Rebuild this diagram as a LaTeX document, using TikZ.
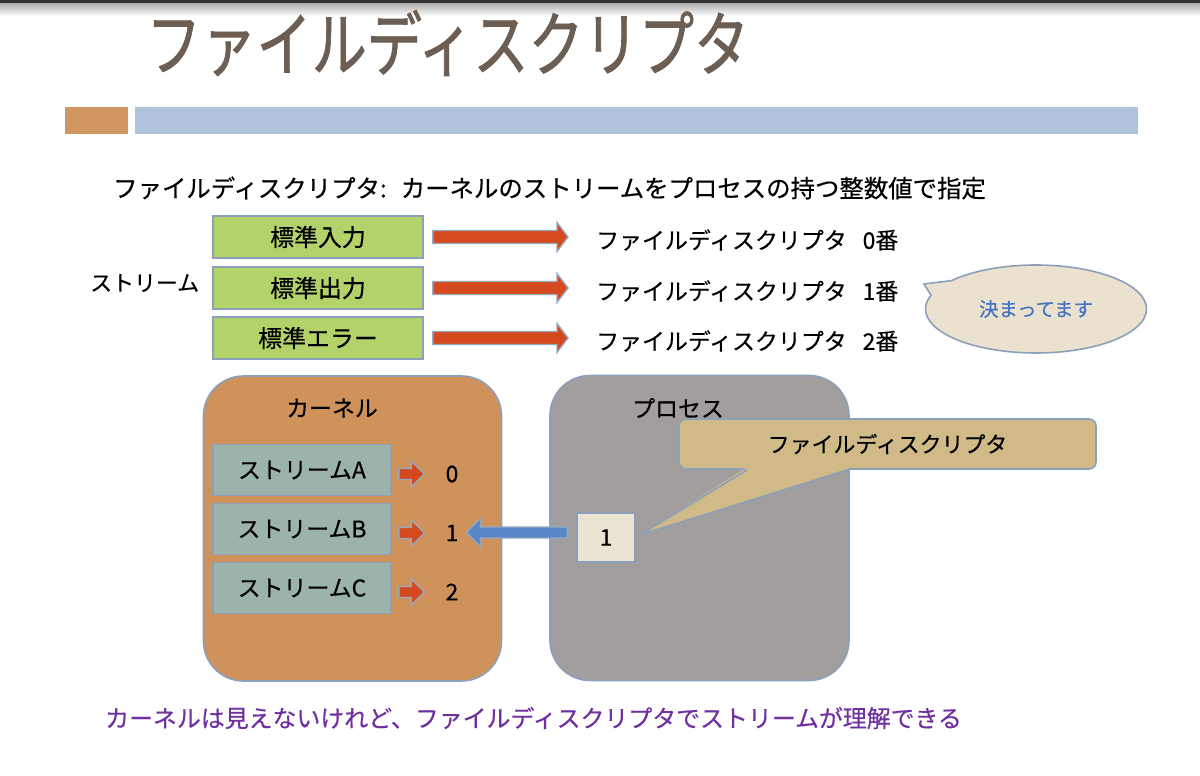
\documentclass[tikz,border=0pt]{standalone}
\usepackage{fontspec}
\setmainfont[FakeBold=0.4]{Noto Sans CJK JP}
\newfontfamily\titlefont[FakeBold=1.2]{Noto Sans CJK JP}
\usetikzlibrary{calc,positioning,shapes.callouts}

\definecolor{titlebrown}{RGB}{108,94,82}
\definecolor{squareorange}{RGB}{208,150,96}
\definecolor{barblue}{RGB}{176,195,220}
\definecolor{boxline}{RGB}{140,160,186}
\definecolor{stdgreen}{RGB}{180,210,106}
\definecolor{strmteal}{RGB}{155,179,170}
\definecolor{kernelorange}{RGB}{206,146,90}
\definecolor{procgray}{RGB}{163,158,158}
\definecolor{calloutan}{RGB}{207,186,136}
\definecolor{onebeige}{RGB}{235,228,210}
\definecolor{ellbeige}{RGB}{234,226,206}
\definecolor{textblue}{RGB}{68,114,196}
\definecolor{arrowred}{RGB}{212,74,30}
\definecolor{arrowblue}{RGB}{86,134,200}
\definecolor{arrowline}{RGB}{150,168,192}
\definecolor{notepurple}{RGB}{112,48,160}

\tikzset{
    every node/.style={inner sep=0pt, font=\fontsize{23}{27}\selectfont},
    stdbox/.style={draw=boxline, fill=stdgreen, line width=1.6bp,
        minimum width=210bp, minimum height=42bp, font=\fontsize{24}{28}\selectfont},
    strmbox/.style={draw=boxline, fill=strmteal, line width=1.6bp,
        minimum width=178bp, minimum height=51bp, font=\fontsize{23}{27}\selectfont},
    area/.style={draw=boxline, line width=1.6bp, rounded corners=40bp,
        minimum width=298bp, minimum height=305bp},
    redarrow/.style={fill=arrowred, draw=arrowline, line width=1.4bp},
    bluearrow/.style={fill=arrowblue, draw=arrowline, line width=1.4bp}
}

% block arrow: style, from, to, shaft half, head half, head length
\newcommand\blockarrow[6]{%
  \filldraw[#1] ($(#2)+(0,#4)$) -- ($(#3)!#6!(#2)+(0,#4)$)
    -- ($(#3)!#6!(#2)+(0,#5)$) -- (#3)
    -- ($(#3)!#6!(#2)+(0,-#5)$) -- ($(#3)!#6!(#2)+(0,-#4)$)
    -- ($(#2)+(0,-#4)$) -- cycle;%
}

\begin{document}
\begin{tikzpicture}[x=1bp, y=-1bp]
\useasboundingbox (0,0) rectangle (1200,776);
\fill[white] (0,0) rectangle (1200,776);

% top edge and header:
\fill[black!80] (0,0) rectangle (1200,4);
\shade[top color=black!30, bottom color=white] (0,4) rectangle (1200,16);
\node[anchor=west, text=titlebrown, font=\titlefont\fontsize{71}{75}\selectfont] (title) at (146,43)
  {\scalebox{0.78}[1]{ファイルディスクリプタ}};
\fill[squareorange] (65,107) rectangle (128,134);
\fill[barblue] (135,107) rectangle (1138,134);

\node[anchor=west, font=\fontsize{24.5}{28}\selectfont] (intro) at (113,188)
  {ファイルディスクリプタ:\hspace{14bp}カーネルのストリームをプロセスの持つ整数値で指定};
\node[anchor=west, font=\fontsize{22}{26}\selectfont] (strlbl) at (90,283) {ストリーム};

% standard streams:
\foreach \i/\txt/\y in {0/標準入力/237, 1/標準出力/288, 2/標準エラー/338} {
  \node[stdbox] (std\i) at (318,\y) {\txt};
  \node[anchor=west] (fd\i) at (596,\y+3) {ファイルディスクリプタ\hspace{0.7em}\i 番};
  \path ([xshift=9bp]std\i.east) coordinate (s\i);
  \path (s\i -| fd\i.west) ++(-28,0) coordinate (t\i);
  \blockarrow{redarrow}{s\i}{t\i}{6.5}{14.5}{11bp}
}

\coordinate (ptr) at (924,284);
\node[ellipse callout, draw=boxline, fill=ellbeige, line width=1.6bp,
  minimum width=221bp, minimum height=88bp, callout absolute pointer={(ptr)},
  callout pointer arc=22, text=textblue, font=\fontsize{19.5}{22}\selectfont]
  (fixed) at (1036,309) {決まってます};

% kernel / process:
\node[area, fill=kernelorange] (kernel) at (352.5,528.5) {};
\node (kernlbl) at (332,408) {カーネル};
\node[area, fill=procgray, minimum width=299bp] (proc) at (699.5,528) {};
\node (proclbl) at (678,408) {プロセス};

\foreach \i/\l/\y in {0/A/470, 1/B/529, 2/C/588} {
  \node[strmbox] (strm\i) at (302,\y) {ストリーム\l};
  \node (num\i) at (452,\y+4) {\i};
  \path (num\i.west -| strm\i.east) ++(7,0) coordinate (u\i);
  \path ([xshift=-21bp]num\i.west) coordinate (v\i);
  \blockarrow{redarrow}{u\i}{v\i}{5.5}{13}{13bp}
}

\node[draw=boxline, fill=onebeige, line width=1.6bp, minimum width=58bp,
  minimum height=49bp] (one) at (606,537.5) {1};
\path ([xshift=-9bp, yshift=5bp]one.west) coordinate (w0);
\path (w0 -| num1.east) ++(8,0) coordinate (w1);
\blockarrow{bluearrow}{w0}{w1}{5.5}{14.5}{14bp}

% callout over the process box
\node[draw=boxline, fill=calloutan, line width=1.6bp, rounded corners=7bp,
  minimum width=417bp, minimum height=50bp, font=\fontsize{22}{26}\selectfont]
  (fdcall) at (887.5,444) {ファイルディスクリプタ};
\path ($(fdcall.south west)+(69,0)$) coordinate (tl)
      ($(fdcall.south west)+(171,0)$) coordinate (tr)
      ([xshift=5bp, yshift=3bp]one.east) coordinate (tip);
\fill[calloutan] ($(tl)+(-1,-2)$) -- (tip) -- ($(tr)+(1,-2)$) -- cycle;
\draw[boxline, line width=1.6bp] (tl) -- (tip) -- (tr);

\node[anchor=west, text=notepurple, font=\fontsize{24}{28}\selectfont] (summary) at (105,718)
  {カーネルは見えないけれど、ファイルディスクリプタでストリームが理解できる};

\end{tikzpicture}
\end{document}
